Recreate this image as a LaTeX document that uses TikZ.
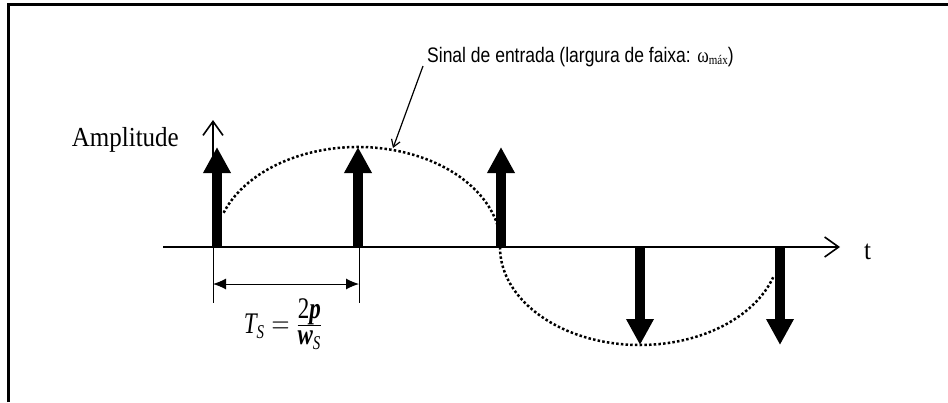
\documentclass[tikz,border=0pt]{standalone}
\usepackage{fontspec}
\usepackage{graphicx}
\setmainfont{Liberation Serif}
\newfontfamily\arialf{Liberation Sans}
\usetikzlibrary{arrows.meta}
\begin{document}
\begin{tikzpicture}[x=1pt,y=1pt,
  frameline/.style={line width=3pt},
  axisline/.style={line width=1.6pt,-{Straight Barb[length=14pt,width=20pt,line width=1.6pt]}},
  impulse/.style={line width=10pt,-{Triangle[length=26pt,width=26pt]}},
  sigcurve/.style={line width=2.5pt,dash pattern=on 2.5pt off 2.2pt},
  dimline/.style={line width=1pt,{Latex[length=13pt,width=11pt]}-{Latex[length=13pt,width=11pt]}},
  extline/.style={line width=0.8pt},
  pointer/.style={line width=1.2pt,-{Straight Barb[length=7pt,width=9pt,line width=1.2pt]}},
  biglbl/.style={inner sep=0pt,font=\fontsize{25}{28}\selectfont}
]
\useasboundingbox (0,0) rectangle (948,-402);
\fill[white] (0,0) rectangle (948,-402);
% frame
\draw[frameline] (8,-402) -- (8,-4) -- (948,-4);
% coordinates
\coordinate (o) at (213,-247);
\coordinate (axs) at (163,-247);
\coordinate (axe) at (840,-247);
\coordinate (vtop) at (213,-120);
% signal curves
\draw[sigcurve] (223.6,-212.8) arc[start angle=160,end angle=0,x radius=143,y radius=100];
\draw[sigcurve] (500,-247) arc[start angle=180,end angle=342,x radius=140,y radius=98];
% axes
\draw[axisline] (axs) -- (axe);
\draw[axisline] (o) -- (vtop);
\node[biglbl,anchor=west] (t) at (864,-252) {\scalebox{1}[1.1]{t}};
\node[biglbl,anchor=east] (amp) at (179,-140) {\scalebox{1}[1.1]{Amplitude}};
% impulses
\foreach \i/\x/\y in {1/217/-147,2/358/-147,3/501/-147,4/640/-345,5/780/-345}{
  \coordinate (b\i) at (\x,-247);
  \coordinate (h\i) at (\x,\y);
  \draw[impulse] (b\i) -- (h\i);
}
% dimension
\coordinate (e1a) at (213,-247);
\coordinate (e1b) at (213,-303);
\coordinate (e2a) at (359,-247);
\coordinate (e2b) at (359,-303);
\draw[extline] (e1a) -- (e1b);
\draw[extline] (e2a) -- (e2b);
\coordinate (d1) at (213,-284);
\coordinate (d2) at (359,-284);
\draw[dimline] (d1) -- (d2);
\node[inner sep=0pt,font=\fontsize{23}{26}\selectfont] (ts) at (283,-324)
  {\scalebox{1}[1.3]{$\mbox{\itshape T}_{\mbox{\fontsize{15}{17}\selectfont\itshape S}} = \frac{\mbox{2\bfseries\itshape p}}{\mbox{\bfseries\itshape w}_{\mbox{\fontsize{15}{17}\selectfont\itshape S}}}$}};
% signal label
\node[inner sep=0pt,anchor=base west,font=\arialf\fontsize{17.5}{20}\selectfont] (sig) at (427,-62)
  {\scalebox{1}[1.2]{Sinal de entrada (largura de faixa: {\rmfamily ω\raisebox{-2pt}{\fontsize{11}{12}\selectfont máx}})}};
\coordinate (pend) at (393,-148);
\coordinate (pstart) at (423,-66);
\draw[pointer] (pstart) -- (pend);
\end{tikzpicture}
\end{document}
